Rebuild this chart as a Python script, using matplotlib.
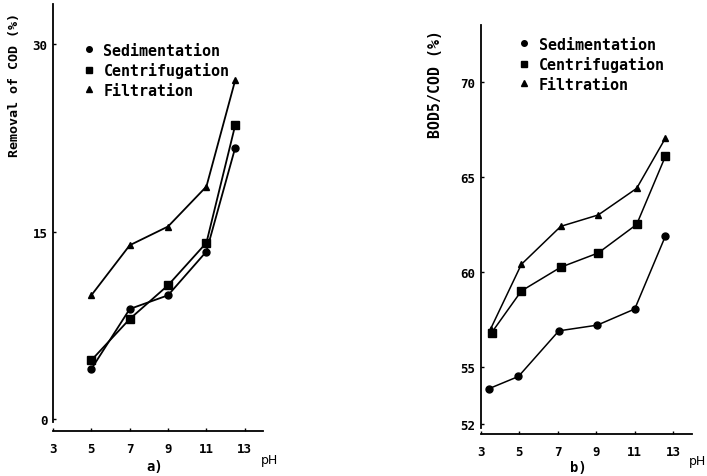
import matplotlib as mpl
mpl.use('Agg')
import matplotlib.pyplot as plt
from matplotlib.lines import Line2D

# panel a) removal of COD (%) vs pH
ph_a = [5, 7, 9, 11, 12.5]
sed_a = [4.0, 8.8, 9.9, 13.4, 21.7]
cen_a = [4.7, 8.0, 10.7, 14.1, 23.5]
fil_a = [9.9, 13.9, 15.4, 18.6, 27.1]

# panel b) BOD5/COD (%) vs pH
ph_b_sed = [3.4, 4.95, 7.05, 9.05, 11.0, 12.6]
sed_b = [53.85, 54.5, 56.9, 57.2, 58.05, 61.9]
ph_b_cen = [3.55, 5.1, 7.15, 9.1, 11.1, 12.6]
cen_b = [56.8, 59.0, 60.25, 61.0, 62.5, 66.1]
ph_b_fil = [3.5, 5.1, 7.15, 9.1, 11.1, 12.6]
fil_b = [57.0, 60.4, 62.4, 63.0, 64.4, 67.05]

labels = ['Sedimentation', 'Centrifugation', 'Filtration']
markers = ['o', 's', '^']
ms_sizes = [5, 5.5, 5]
xticks = [3, 5, 7, 9, 11, 13]
yticks_a = [0, 15, 30]
yticks_b = [52, 55, 60, 65, 70]

W, H = 707, 477
fig = plt.figure(figsize=(W / 100, H / 100), dpi=100)

mono = 'DejaVu Sans Mono'


def px_axes(x0, y0, x1, y1):
    # pixel box (top-left origin) -> figure fraction axes
    return fig.add_axes([x0 / W, 1 - y1 / H, (x1 - x0) / W, (y1 - y0) / H])


def style(ax, yticks):
    for s in ['top', 'right']:
        ax.spines[s].set_visible(False)
    for s in ['left', 'bottom']:
        ax.spines[s].set_linewidth(1.3)
    ax.set_xticks(xticks)
    ax.set_yticks(yticks)
    ax.tick_params(direction='in', length=2.5, width=1, pad=4)
    ax.tick_params(axis='x', pad=8)
    for t in ax.get_xticklabels() + ax.get_yticklabels():
        t.set_fontsize(9)
        t.set_fontweight('bold')
        t.set_fontfamily(mono)


def add_legend(ax, x, y):
    handles = [Line2D([], [], ls='none', marker=m, color='k', ms=s * 0.8)
               for m, s in zip(markers, ms_sizes)]
    ax.legend(handles, labels, loc='upper left', bbox_to_anchor=(x / W, 1 - y / H),
              bbox_transform=fig.transFigure, frameon=False, borderpad=0,
              handlelength=0.8, handletextpad=0.6, labelspacing=0.3,
              prop={'family': mono, 'weight': 'bold', 'size': 10.8})


# ---- panel a
ax1 = px_axes(53, 5, 263, 432)
ax1.set_xlim(3, 13.95)
ax1.set_ylim(-0.96, 33.2)
for ys, m, s in zip([sed_a, cen_a, fil_a], markers, ms_sizes):
    ax1.plot(ph_a, ys, color='k', lw=1.3, marker=m, ms=s)
style(ax1, yticks_a)
ax1.spines['left'].set_bounds(-0.2, 33.2)
add_legend(ax1, 75, 36)
fig.text(15 / W, 1 - 85 / H, 'Removal of COD (%)', rotation=90, ha='center', va='center',
         family=mono, weight='bold', size=9.6)
fig.text(270 / W, 1 - 461 / H, 'pH', ha='center', va='center', size=9)
fig.text(155 / W, 1 - 467 / H, 'a)', ha='center', va='center', family=mono,
         weight='bold', size=10)

# ---- panel b
ax2 = px_axes(481, 26, 692, 435)
ax2.set_xlim(3, 13.98)
ax2.set_ylim(51.47, 73.0)
for xs, ys, m, s in zip([ph_b_sed, ph_b_cen, ph_b_fil], [sed_b, cen_b, fil_b], markers, ms_sizes):
    ax2.plot(xs, ys, color='k', lw=1.1, marker=m, ms=s)
style(ax2, yticks_b)
ax2.spines['left'].set_bounds(51.8, 73.0)
add_legend(ax2, 510, 30)
fig.text(435 / W, 1 - 84 / H, 'BOD5/COD (%)', rotation=90, ha='center', va='center',
         family=mono, weight='bold', size=10.7)
fig.text(697 / W, 1 - 462 / H, 'pH', ha='center', va='center', size=9)
fig.text(578 / W, 1 - 468 / H, 'b)', ha='center', va='center', family=mono,
         weight='bold', size=10)

fig.savefig('out.png', dpi=100)
